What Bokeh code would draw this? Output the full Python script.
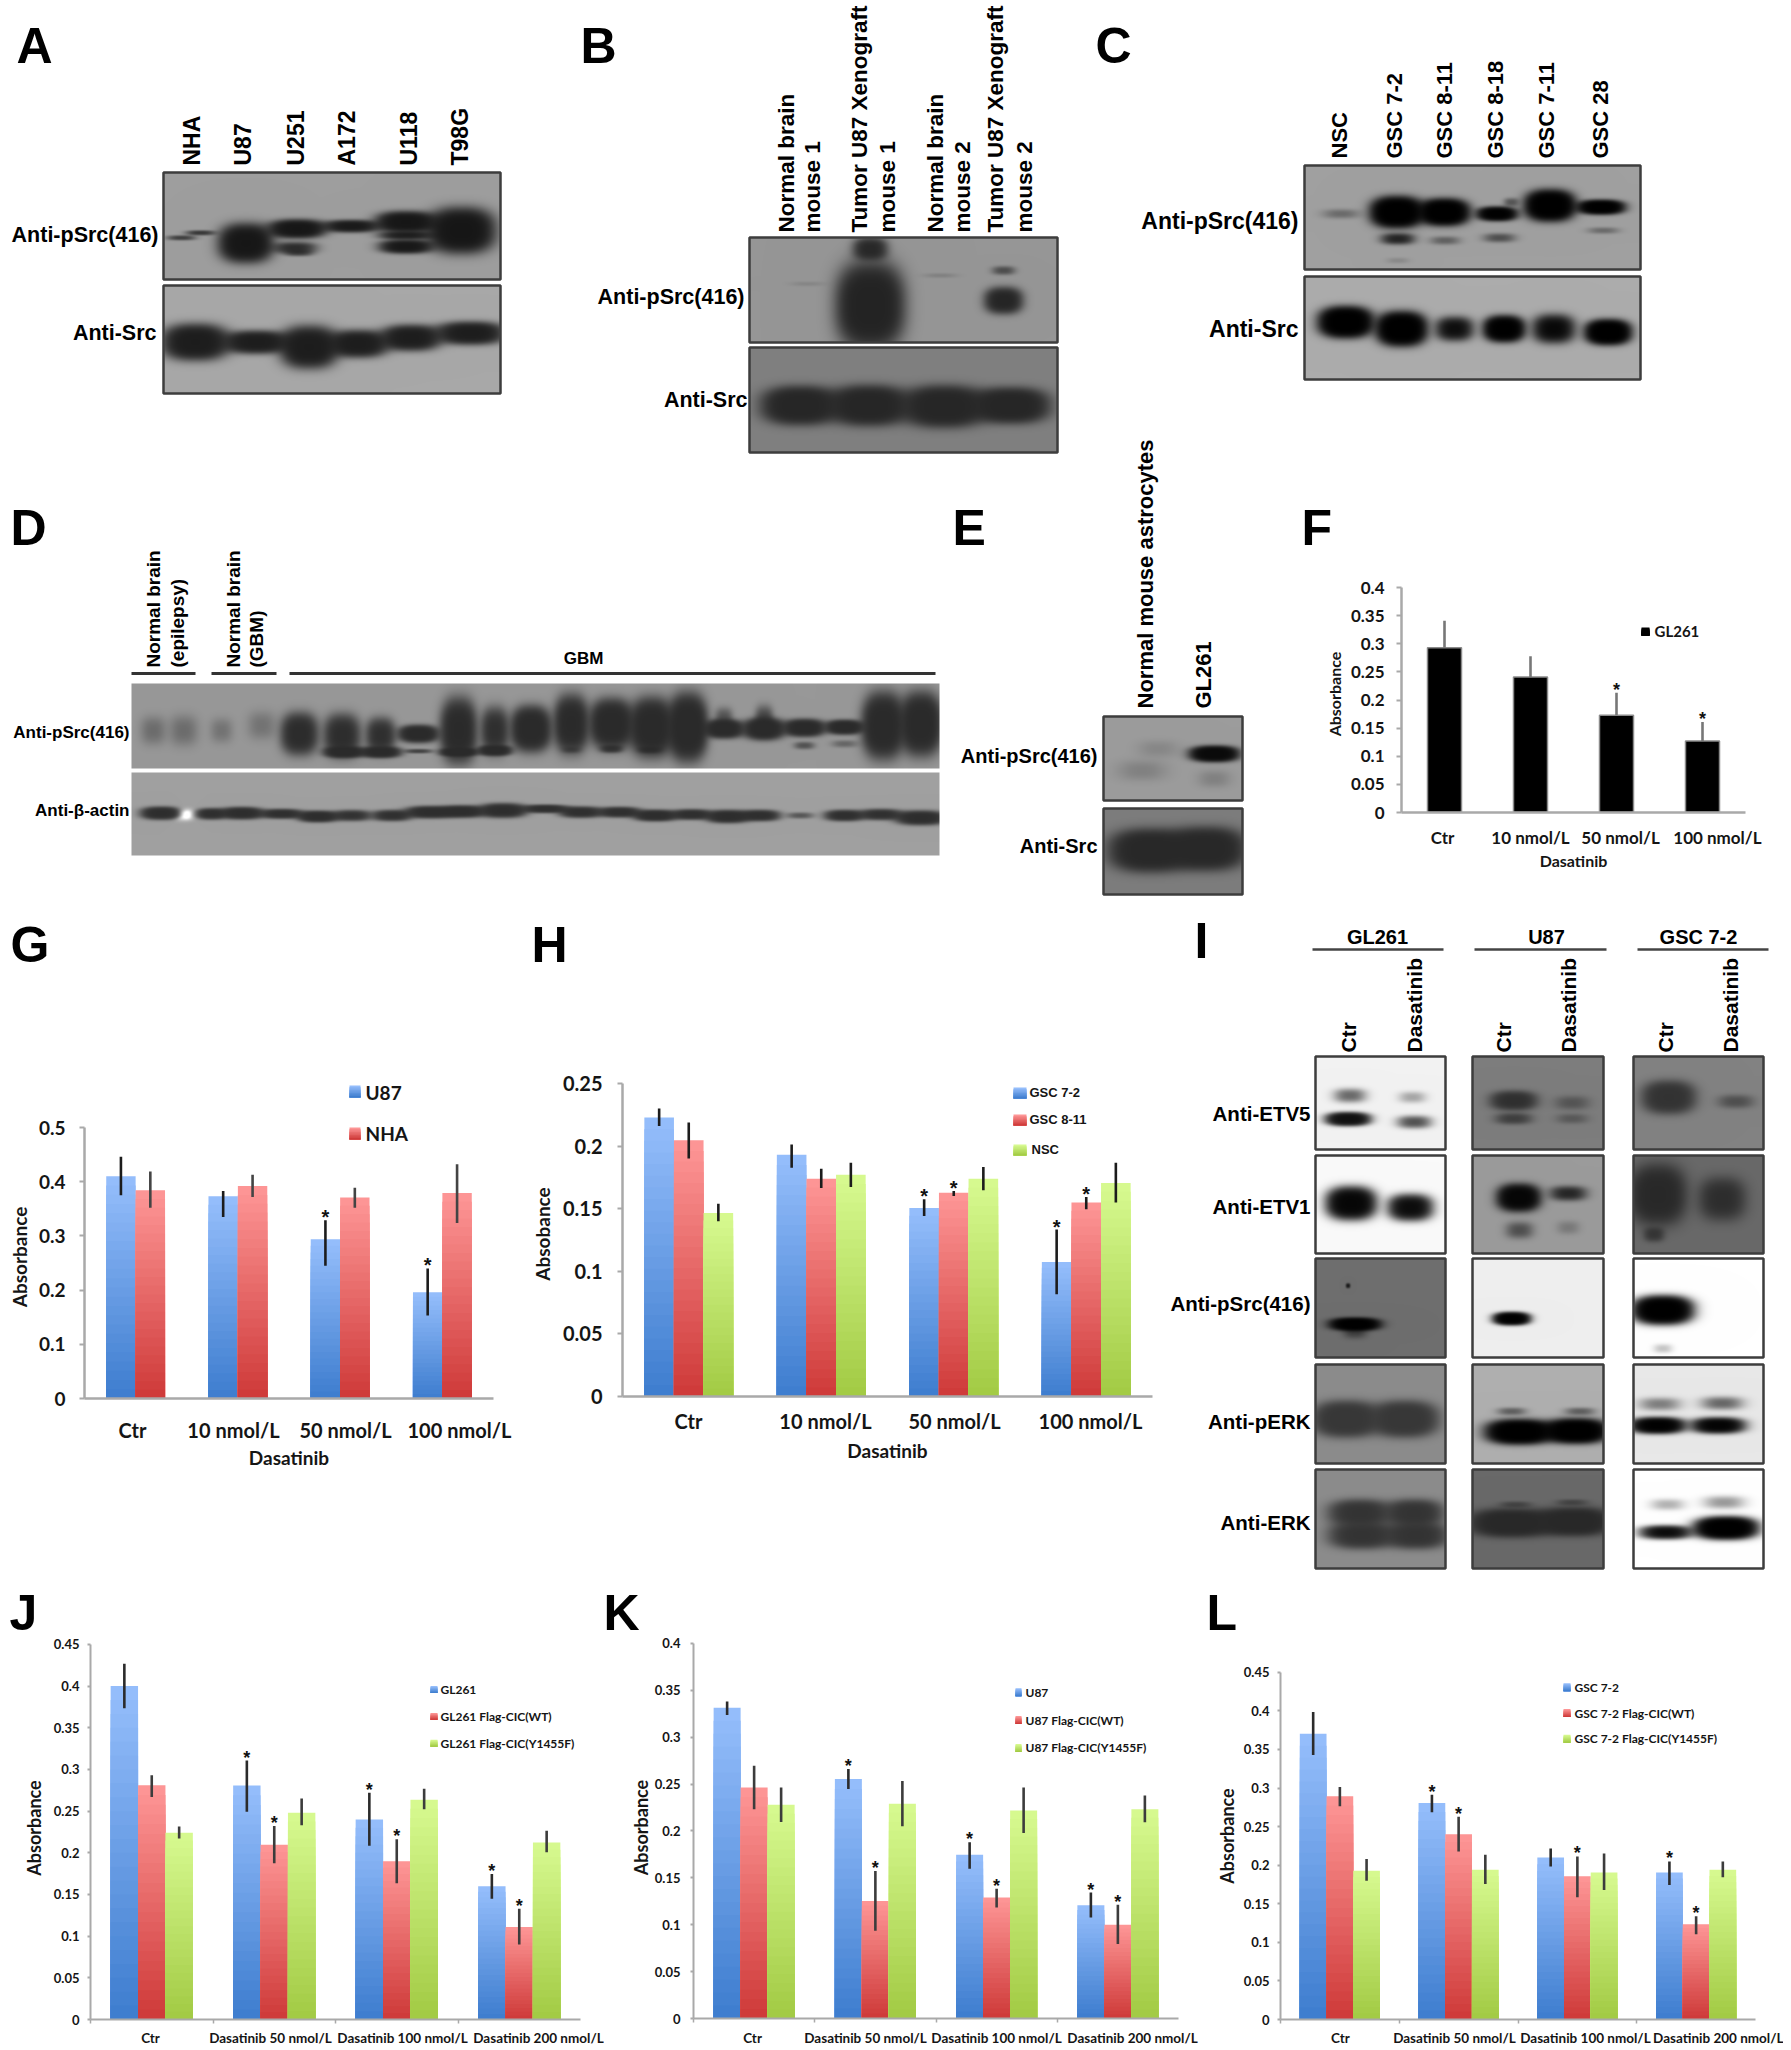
import numpy as np
from math import pi
from bokeh.core.properties import value
from bokeh.embed import file_html
from bokeh.layouts import column, row
from bokeh.models import FixedTicker, Range1d
from bokeh.plotting import figure
from bokeh.resources import INLINE

# ---------------- chart data ----------------
DOSES = ["Ctr", "10 nmol/L", "50 nmol/L", "100 nmol/L"]
DOSES_LONG = ["Ctr", "Dasatinib 50 nmol/L", "Dasatinib 100 nmol/L", "Dasatinib 200 nmol/L"]

F_GL261 = [0.293, 0.241, 0.173, 0.127]
F_GL261_HI = [0.341, 0.278, 0.213, 0.161]

G_U87 = [0.410, 0.373, 0.294, 0.196]
G_U87_LO = [0.375, 0.335, 0.245, 0.153]
G_U87_HI = [0.446, 0.383, 0.329, 0.240]
G_NHA = [0.384, 0.392, 0.371, 0.379]
G_NHA_LO = [0.352, 0.372, 0.352, 0.324]
G_NHA_HI = [0.419, 0.413, 0.389, 0.432]

H_GSC72 = [0.2228, 0.193, 0.1506, 0.1074]
H_GSC72_LO = [0.216, 0.1828, 0.1442, 0.0816]
H_GSC72_HI = [0.230, 0.2012, 0.1575, 0.1333]
H_GSC811 = [0.2047, 0.174, 0.1628, 0.1549]
H_GSC811_LO = [0.190, 0.1666, 0.1602, 0.1495]
H_GSC811_HI = [0.2188, 0.182, 0.1642, 0.1594]
H_NSC = [0.1466, 0.1772, 0.174, 0.1706]
H_NSC_LO = [0.140, 0.1674, 0.1647, 0.1549]
H_NSC_HI = [0.154, 0.1868, 0.1834, 0.1868]

J_BASE = [0.400, 0.2808, 0.240, 0.160]
J_BASE_LO = [0.3733, 0.2494, 0.2085, 0.145]
J_BASE_HI = [0.4269, 0.3106, 0.272, 0.1747]
J_WT = [0.281, 0.2097, 0.190, 0.111]
J_WT_LO = [0.2669, 0.1875, 0.1636, 0.090]
J_WT_HI = [0.2931, 0.2323, 0.2164, 0.133]
J_MUT = [0.224, 0.248, 0.2637, 0.2125]
J_MUT_LO = [0.2172, 0.2331, 0.2522, 0.2006]
J_MUT_HI = [0.2315, 0.2653, 0.2768, 0.2264]

K_BASE = [0.3314, 0.2555, 0.1746, 0.1208]
K_BASE_LO = [0.3237, 0.2449, 0.1597, 0.1078]
K_BASE_HI = [0.338, 0.2661, 0.188, 0.1343]
K_WT = [0.2463, 0.1254, 0.129, 0.100]
K_WT_LO = [0.2233, 0.0936, 0.1184, 0.0795]
K_WT_HI = [0.2696, 0.1572, 0.1385, 0.1212]
K_MUT = [0.2279, 0.229, 0.2219, 0.2233]
K_MUT_LO = [0.2095, 0.205, 0.1979, 0.2092]
K_MUT_HI = [0.2463, 0.2534, 0.2463, 0.2378]

L_BASE = [0.3703, 0.2807, 0.21, 0.1907]
L_BASE_LO = [0.3429, 0.2687, 0.1984, 0.1744]
L_BASE_HI = [0.3986, 0.2914, 0.2216, 0.2049]
L_WT = [0.2893, 0.24, 0.1856, 0.1234]
L_WT_LO = [0.2764, 0.2177, 0.1586, 0.1106]
L_WT_HI = [0.3013, 0.2627, 0.2113, 0.1337]
L_MUT = [0.1929, 0.1942, 0.1907, 0.1942]
L_MUT_LO = [0.18, 0.1757, 0.168, 0.1843]
L_MUT_HI = [0.2079, 0.2134, 0.2152, 0.2049]

TICKS_F = [(0, "0"), (0.05, "0.05"), (0.1, "0.1"), (0.15, "0.15"), (0.2, "0.2"), (0.25, "0.25"), (0.3, "0.3"), (0.35, "0.35"), (0.4, "0.4")]
TICKS_G = [(0, "0"), (0.1, "0.1"), (0.2, "0.2"), (0.3, "0.3"), (0.4, "0.4"), (0.5, "0.5")]
TICKS_H = [(0, "0"), (0.05, "0.05"), (0.1, "0.1"), (0.15, "0.15"), (0.2, "0.2"), (0.25, "0.25")]
TICKS_J = TICKS_F + [(0.45, "0.45")]

BLUE = ("#94bdfb", "#3f7ecf")
RED = ("#fd9595", "#cf3b3a")
GREEN = ("#d6f98f", "#a3cb45")
BLACK = ("#000000", "#000000")
SANS = "Liberation Sans"
LATO = "Lato"
INK = "#151515"


def lerp(c1, c2, t):
    a = [int(c1[i:i + 2], 16) for i in (1, 3, 5)]
    b = [int(c2[i:i + 2], 16) for i in (1, 3, 5)]
    return "#%02x%02x%02x" % tuple(int(round(u + (v - u) * t)) for u, v in zip(a, b))


def grad(p, lefts, rights, tops, bottoms, colors, n=24):
    # painter's order: full height first, each next slice shorter and darker
    lefts, rights, tops, bottoms = map(np.asarray, (lefts, rights, tops, bottoms))
    for k in range(n):
        f = 1 - k / n
        p.quad(left=lefts, right=rights, bottom=bottoms, top=bottoms + (tops - bottoms) * f,
               fill_color=lerp(colors[0], colors[1], k / max(n - 1, 1)), line_color=None)


def chart(box, fx0, fx1, fy0, fy1, vmax, ticks, cats, cat_px, series, bar_px, stars, ylabel, legend,
          tick_font, cat_font, ylabel_font, legend_font, legend_family, y_standoff, label_standoff, cat_standoff,
          xlabel=None, xlabel_standoff=0, frame_top=None, boundary_ticks=False, tick_out=5, axis_w=2.5, star_font=20):
    x0, y0, x1, y1 = box
    frame_top = y0 if frame_top is None else frame_top
    sp = (fx1 - fx0) / 4
    X = lambda px: -0.5 + (px - fx0) / sp
    Y = lambda px: vmax * (fy1 - px) / (fy1 - fy0)
    p = figure(width=x1 - x0, height=y1 - y0, x_range=Range1d(-0.5, 3.5), y_range=Range1d(0, Y(frame_top)),
               output_backend="svg", toolbar_location=None, min_border_left=fx0 - x0, min_border_right=x1 - fx1,
               min_border_top=frame_top - y0, min_border_bottom=y1 - fy1, outline_line_color=None, frame_align=False)
    p.grid.visible = False
    ya, xa = p.yaxis[0], p.xaxis[0]
    for a in (ya, xa):
        a.axis_line_color = "#a9a9a9"
        a.axis_line_width = axis_w
        a.major_tick_line_color = "#a9a9a9"
        a.major_tick_line_width = 2
        a.major_tick_in = 0
        a.minor_tick_in = 0
        a.major_label_text_font = LATO
        a.major_label_text_font_style = "bold"
        a.major_label_text_color = INK
        a.axis_label_text_font = LATO
        a.axis_label_text_font_style = "bold"
        a.axis_label_text_color = INK
        a.axis_label_text_font_size = f"{ylabel_font}px"
    ya.bounds = (0, vmax)
    ya.ticker = FixedTicker(ticks=[t[0] for t in ticks])
    ya.major_label_overrides = {t[0]: t[1] for t in ticks}
    ya.major_tick_out = tick_out
    ya.minor_tick_out = 0
    ya.major_label_standoff = y_standoff
    ya.major_label_text_font_size = f"{tick_font}px"
    ya.axis_label = ylabel
    ya.axis_label_standoff = label_standoff

    pos = [round(X(c), 3) for c in cat_px]
    xa.major_tick_out = 0
    xa.ticker = FixedTicker(ticks=pos, minor_ticks=[-0.5, 0.5, 1.5, 2.5] if boundary_ticks else [])
    xa.minor_tick_out = 4 if boundary_ticks else 0
    xa.minor_tick_line_color = "#a9a9a9"
    xa.minor_tick_line_width = 1.5
    xa.major_label_overrides = {q: c for q, c in zip(pos, cats)}
    xa.major_label_standoff = cat_standoff
    xa.major_label_text_font_size = f"{cat_font}px"
    if xlabel:
        xa.axis_label = xlabel
        xa.axis_label_standoff = xlabel_standoff

    n = len(series)
    w = bar_px / sp
    for i, s in enumerate(series):
        c = np.arange(4) + (i - (n - 1) / 2) * w
        if s["c"] is BLACK:
            p.quad(left=c - w / 2, right=c + w / 2, bottom=0, top=s["v"], fill_color="black", line_color="#8a8a8a", line_width=1.5)
        else:
            grad(p, c - w / 2, c + w / 2, s["v"], np.zeros(4), s["c"])
        lo = s.get("lo", s["v"])
        p.segment(x0=c, x1=c, y0=lo, y1=s["hi"], line_color=s.get("err", "#1c1c1c"), line_width=2.6)

    sx = [g + (i - (n - 1) / 2) * w for g, i in stars]
    sy = [series[i]["hi"][g] for g, i in stars]
    p.text(sx, sy, text=["*"] * len(sx), text_align="center", text_baseline="middle", y_offset=-3,
           text_font=value(SANS), text_font_style="bold", text_font_size=f"{star_font}px", text_color="#111111")

    for (sq, tx, txt, col) in legend:
        grad(p, [X(sq[0])], [X(sq[2])], [Y(sq[1])], [Y(sq[3])], col, n=8)
        p.text([X(tx[0])], [Y(tx[1])], text=[txt], text_align="left", text_baseline="middle",
               text_font=value(legend_family), text_font_style="bold", text_font_size=f"{legend_font}px", text_color=INK)
    return p


# ---------------- western blot pictures ----------------

def blot(p, box, bg, ink, blobs, z, border="#3d3d3d"):
    x0, y0, x1, y1 = box
    fx, ox, fy, oy = z
    w, h = int(x1 - x0), int(y1 - y0)
    xx, yy = np.meshgrid(np.arange(w) + x0 + 0.5, np.arange(h) + y0 + 0.5)
    d = np.zeros((h, w))
    for (cx, cy, hw, hh, a) in blobs:
        cx, cy, hw, hh = ox + cx / fx, oy + cy / fy, hw / fx, hh / fy
        q = np.abs((xx - cx) / hw) ** 2.5 + np.abs((yy - cy) / hh) ** 2.5
        d += a * np.exp(-1.6 * q)
    t = 1 - np.exp(-np.clip(d, -8, 30))
    v = np.clip(bg + (ink - bg) * t, 0, 255).astype(np.uint32)
    img = (255 << 24) | (v << 16) | (v << 8) | v
    p.image_rgba(image=[img[::-1].astype(np.uint32)], x=x0, y=-y1, dw=x1 - x0, dh=y1 - y0)
    if border:
        p.quad(left=x0, right=x1, bottom=-y1, top=-y0, fill_color=None, line_color=border, line_width=2.5)


def canvas(x0, y0, x1, y1):
    p = figure(width=x1 - x0, height=y1 - y0, x_range=Range1d(x0, x1), y_range=Range1d(-y1, -y0),
               output_backend="svg", toolbar_location=None, min_border=0, outline_line_color=None, frame_align=False)
    p.axis.visible = False
    p.grid.visible = False
    return p


def put(p, x, y, txt, size, align="left", base="middle", rot=False, family=SANS, style="bold", color="black"):
    p.text([x], [-y], text=[txt], angle=pi / 2 if rot else 0, text_align=align, text_baseline=base,
           text_font=value(family), text_font_style=style, text_font_size=f"{size}px", text_color=color)


Z1 = (1.4255, 0, 3, 0)
Z2 = (2.116, 1050, 3, 0)
Z3 = (1.244, 0, 3, 440)
Z7 = (2.566, 1180, 2.34, 910)

# ----- top-left canvas: panels A, B, D, E and the labels of C
tl = canvas(0, 0, 1300, 910)
for txt, x, y in [("A", 16, 45), ("B", 580, 45), ("C", 1095, 45), ("D", 10, 527), ("E", 952, 527)]:
    put(tl, x, y, txt, 50)

A_LANES = ["NHA", "U87", "U251", "A172", "U118", "T98G"]
for txt, x in zip(A_LANES, [191, 242, 295, 346, 408, 459]):
    put(tl, x, 165, txt, 23, rot=True)
blot(tl, (163, 172, 500, 279), 158, 22, [
    (258, 712, 22, 8, 1.2), (285, 697, 22, 8, 1.4), (350, 728, 36, 54, 5), (423, 685, 38, 26, 5),
    (420, 742, 32, 18, 1.8), (425, 758, 22, 10, 0.9), (500, 677, 38, 18, 3.5), (578, 665, 40, 30, 5),
    (578, 738, 36, 20, 4), (578, 705, 38, 12, 2.5), (657, 690, 44, 62, 5.5)], Z1)
blot(tl, (163, 285, 500, 393), 168, 28, [
    (278, 1025, 44, 50, 5), (365, 1025, 44, 32, 4.5), (440, 1040, 38, 58, 5), (510, 1030, 40, 38, 4.5),
    (585, 1012, 40, 36, 4.5), (670, 998, 46, 32, 4.5)], Z1)
put(tl, 158, 234, "Anti-pSrc(416)", 21.5, "right")
put(tl, 156, 332, "Anti-Src", 21.5, "right")

B_LANES = [("Normal brain", 786), ("mouse 1", 812), ("Tumor U87 Xenograft", 859), ("mouse 1", 887),
           ("Normal brain", 935), ("mouse 2", 962), ("Tumor U87 Xenograft", 995), ("mouse 2", 1024)]
for txt, x in B_LANES:
    put(tl, x, 232, txt, 22.5, rot=True)
blot(tl, (749, 237, 1057, 342), 150, 35, [
    (1240, 915, 44, 118, 6), (1240, 745, 24, 34, 3), (1430, 900, 26, 38, 4), (1430, 810, 18, 14, 1),
    (1150, 850, 28, 8, 0.15), (1340, 825, 28, 8, 0.2)], Z1)
blot(tl, (749, 347, 1057, 452), 128, 38, [
    (1140, 1215, 50, 52, 6), (1238, 1215, 52, 54, 6), (1345, 1218, 54, 56, 6), (1440, 1215, 50, 48, 6)], Z1)
put(tl, 744, 296, "Anti-pSrc(416)", 21.5, "right")
put(tl, 747, 399, "Anti-Src", 21.5, "right")

put(tl, 1298, 220, "Anti-pSrc(416)", 23, "right")
put(tl, 1298, 328, "Anti-Src", 23, "right")

for txt, x in [("Normal brain", 153), ("(epilepsy)", 177), ("Normal brain", 233), ("(GBM)", 256)]:
    put(tl, x, 667, txt, 19, rot=True)
put(tl, 583, 658, "GBM", 17, "center")
tl.segment(x0=[131, 211, 289], x1=[195, 276, 935], y0=[-673] * 3, y1=[-673] * 3, line_color="#333333", line_width=3)
blot(tl, (131, 683, 939, 768), 152, 42, [
    (190, 870, 18, 48, 0.5), (228, 870, 20, 52, 0.5), (275, 870, 16, 42, 0.4), (325, 855, 20, 48, 0.4),
    (372, 880, 22, 60, 4), (425, 885, 22, 62, 3.5), (428, 935, 24, 16, 5), (473, 885, 18, 52, 3), (473, 935, 24, 16, 5),
    (520, 880, 23, 24, 6), (520, 932, 18, 7, 1.5), (570, 870, 21, 90, 5), (570, 935, 22, 12, 5), (615, 870, 17, 68, 3),
    (615, 930, 20, 15, 5), (660, 865, 23, 62, 6), (710, 850, 20, 80, 5), (710, 928, 12, 10, 0.8), (760, 850, 25, 68, 6),
    (760, 925, 14, 12, 2), (810, 860, 25, 80, 6), (808, 928, 14, 10, 2), (855, 860, 22, 90, 7), (900, 865, 23, 26, 6),
    (900, 835, 12, 36, 1), (950, 865, 24, 30, 6), (950, 840, 12, 46, 1.5), (1000, 862, 24, 24, 6), (1000, 915, 14, 12, 1),
    (1050, 860, 22, 20, 6), (1050, 910, 18, 12, 0.6), (1098, 855, 24, 90, 6), (1145, 850, 24, 86, 6)], Z3, border=None)
blot(tl, (131, 772, 939, 855), 160, 45, [
    (200, 1118, 24, 18, 5), (262, 1120, 18, 16, 4), (300, 1118, 26, 17, 5), (350, 1120, 26, 14, 4), (395, 1128, 24, 16, 5),
    (437, 1125, 24, 16, 3), (487, 1125, 24, 16, 3.5), (535, 1115, 30, 17, 5), (575, 1113, 26, 17, 5), (625, 1110, 28, 20, 5),
    (678, 1105, 28, 12, 4), (722, 1115, 26, 16, 4), (770, 1115, 26, 15, 4), (815, 1125, 26, 16, 5), (860, 1122, 24, 15, 4),
    (905, 1128, 26, 18, 5), (945, 1125, 24, 16, 4), (995, 1125, 18, 10, 1), (1050, 1125, 24, 16, 4), (1095, 1122, 26, 16, 3.5),
    (1145, 1132, 30, 20, 5), (228, 1122, 14, 20, -1)], Z3, border=None)
put(tl, 129, 732, "Anti-pSrc(416)", 17, "right")
put(tl, 129, 810, "Anti-β-actin", 17, "right")

put(tl, 1145, 708, "Normal mouse astrocytes", 22, rot=True)
put(tl, 1203, 708, "GL261", 22, rot=True)
blot(tl, (1103, 716, 1242, 800), 156, 10, [
    (1510, 940, 28, 22, 6), (1420, 990, 36, 36, 0.2), (1440, 925, 30, 30, 0.15), (1510, 1015, 24, 30, 0.2)], Z3)
blot(tl, (1103, 808, 1242, 894), 125, 40, [(1430, 1230, 46, 58, 6), (1500, 1225, 44, 58, 6)], Z3)
put(tl, 1097, 755, "Anti-pSrc(416)", 20, "right")
put(tl, 1097, 845, "Anti-Src", 20, "right")

# ----- panel C blots and the letter F
cb = canvas(1300, 0, 1783, 575)
C_LANES = ["NSC", "GSC 7-2", "GSC 8-11", "GSC 8-18", "GSC 7-11", "GSC 28"]
for txt, x in zip(C_LANES, [1339, 1394, 1444, 1495, 1546, 1600]):
    put(cb, x, 158, txt, 22, rot=True)
blot(cb, (1304, 165, 1640, 269), 160, 0, [
    (615, 640, 45, 16, 0.4), (733, 635, 50, 42, 7), (833, 635, 48, 36, 7), (945, 640, 40, 20, 5), (975, 605, 18, 14, 0.6),
    (1057, 615, 48, 42, 7), (1165, 620, 46, 20, 6), (735, 715, 38, 18, 1.5), (835, 720, 36, 14, 0.5), (950, 712, 38, 15, 0.7),
    (1170, 690, 38, 11, 0.4), (735, 780, 28, 10, 0.15)], Z2)
blot(cb, (1304, 276, 1640, 379), 172, 0, [
    (625, 965, 52, 42, 7), (743, 985, 48, 46, 7), (855, 985, 40, 36, 2.5), (960, 985, 40, 36, 6), (1065, 985, 44, 42, 3),
    (1180, 995, 44, 34, 7)], Z2)
put(cb, 1301, 527, "F", 50)

# ----- panel F
f_chart = chart((1300, 575, 1783, 910), 1401, 1745, 587, 812, 0.4, TICKS_F, DOSES, [1442, 1530, 1620, 1717],
                [dict(v=F_GL261, hi=F_GL261_HI, c=BLACK, err="#777777")], 34, [(2, 0), (3, 0)], "Absorbance",
                [((1641, 627, 1649, 635), (1654, 630), "GL261", BLACK)],
                17, 17, 16, 15, LATO, 12, 4, 14, xlabel="Dasatinib", xlabel_standoff=0, star_font=18)

# ----- panel G
g_strip = canvas(0, 910, 520, 1115)
put(g_strip, 10, 944, "G", 50)
grad(g_strip, [349], [360], [-1085], [-1097], BLUE, n=8)
put(g_strip, 365, 1092, "U87", 19, family=LATO, color=INK)
g_chart = chart((0, 1115, 520, 1590), 84, 493, 1127, 1398, 0.5, TICKS_G, DOSES, [132, 233, 345, 459],
                [dict(v=G_U87, lo=G_U87_LO, hi=G_U87_HI, c=BLUE), dict(v=G_NHA, lo=G_NHA_LO, hi=G_NHA_HI, c=RED, err="#444444")],
                29.4, [(2, 0), (3, 0)], "Absorbance",
                [((349, 1127, 360, 1139), (365, 1133), "NHA", RED)],
                19, 20, 19, 19, LATO, 14, 5, 19, xlabel="Dasatinib", xlabel_standoff=1)

# ----- panel H
h_strip = canvas(520, 910, 1160, 1071)
put(h_strip, 531, 944, "H", 50)
h_chart = chart((520, 1071, 1160, 1590), 622, 1152, 1083, 1396, 0.25, TICKS_H, DOSES, [688, 825, 954, 1090],
                [dict(v=H_GSC72, lo=H_GSC72_LO, hi=H_GSC72_HI, c=BLUE), dict(v=H_GSC811, lo=H_GSC811_LO, hi=H_GSC811_HI, c=RED),
                 dict(v=H_NSC, lo=H_NSC_LO, hi=H_NSC_HI, c=GREEN)],
                29.6, [(2, 0), (2, 1), (3, 0), (3, 1)], "Absobance",
                [((1013, 1087, 1026, 1098), (1029, 1092), "GSC 7-2", BLUE), ((1013, 1114, 1026, 1125), (1029, 1119), "GSC 8-11", RED),
                 ((1013, 1144, 1026, 1155), (1031, 1149), "NSC", GREEN)],
                20, 20, 19, 13, SANS, 15, 6, 12, xlabel="Dasatinib", xlabel_standoff=3)

# ----- panel I
ib = canvas(1160, 910, 1783, 1590)
put(ib, 1194, 940, "I", 50)
for txt, x in [("GL261", 1377), ("U87", 1546), ("GSC 7-2", 1698)]:
    put(ib, x, 936, txt, 20, "center")
ib.segment(x0=[1312, 1474, 1637], x1=[1443, 1606, 1768], y0=[-949] * 3, y1=[-949] * 3, line_color="#444444", line_width=2.5)
for x, txt in [(1348, "Ctr"), (1414, "Dasatinib"), (1503, "Ctr"), (1568, "Dasatinib"), (1665, "Ctr"), (1730, "Dasatinib")]:
    put(ib, x, 1052, txt, 21, rot=True)
for y, txt in [(1113, "Anti-ETV5"), (1206, "Anti-ETV1"), (1303, "Anti-pSrc(416)"), (1421, "Anti-pERK"), (1522, "Anti-ERK")]:
    put(ib, 1310, y, txt, 20.5, "right")
COLS = [(1315, 1445), (1472, 1603), (1633, 1763)]
ROWS = [(1056, 1149), (1155, 1253), (1258, 1357), (1364, 1463), (1469, 1568)]
I_CELLS = [
    [(242, 15, [(435, 433, 46, 18, 0.9), (430, 488, 54, 15, 5), (595, 437, 40, 15, 0.4), (600, 495, 48, 16, 1.2)]),
     (125, 45, [(855, 445, 58, 22, 3.5), (855, 487, 50, 14, 1.5), (1005, 450, 50, 18, 0.7), (1005, 487, 46, 13, 0.6)]),
     (130, 50, [(1253, 437, 64, 36, 4.5), (1425, 447, 50, 17, 1)])],
    [(250, 5, [(438, 685, 60, 36, 5), (590, 695, 56, 30, 3.5)]),
     (155, 5, [(868, 672, 52, 30, 5), (995, 662, 50, 18, 1.5), (870, 748, 40, 22, 0.7), (995, 742, 34, 18, 0.25)]),
     (105, 40, [(1225, 665, 68, 66, 4.5), (1390, 675, 60, 50, 2.5), (1215, 758, 28, 18, 1.5)])],
    [(110, 0, [(448, 968, 60, 14, 6), (448, 985, 34, 18, 0.6), (430, 878, 6, 6, 1.5)]),
     (238, 0, [(850, 955, 44, 14, 6)]),
     (255, 0, [(1238, 935, 70, 30, 7), (1238, 1025, 28, 12, 0.25)])],
    [(140, 55, [(425, 1190, 78, 38, 6), (575, 1190, 78, 38, 6)]),
     (175, 0, [(870, 1220, 78, 26, 7), (1015, 1218, 74, 26, 7), (850, 1172, 42, 10, 0.6), (1025, 1172, 44, 10, 0.6)]),
     (232, 0, [(1225, 1205, 66, 18, 5), (1380, 1205, 66, 18, 4), (1230, 1155, 60, 17, 0.6), (1390, 1153, 60, 17, 0.8)])],
    [(140, 50, [(460, 1410, 76, 30, 4), (465, 1462, 80, 30, 4), (600, 1410, 70, 30, 4), (605, 1462, 76, 30, 4)]),
     (105, 40, [(850, 1433, 98, 30, 6), (1010, 1430, 88, 30, 6), (860, 1390, 44, 8, 0.8), (1005, 1385, 44, 8, 0.8)]),
     (255, 0, [(1245, 1455, 66, 16, 3), (1400, 1445, 74, 24, 7), (1250, 1390, 50, 15, 0.35), (1395, 1385, 60, 17, 0.5)])],
]
for r, rr in enumerate(ROWS):
    for c, cc in enumerate(COLS):
        bg, ink, blobs = I_CELLS[r][c]
        blot(ib, (cc[0], rr[0], cc[1], rr[1]), bg, ink, blobs, Z7)


def triple(base, base_lo, base_hi, wt, wt_lo, wt_hi, mut, mut_lo, mut_hi):
    return [dict(v=base, lo=base_lo, hi=base_hi, c=BLUE, err="#2b2b2b"), dict(v=wt, lo=wt_lo, hi=wt_hi, c=RED, err="#3c3c3c"),
            dict(v=mut, lo=mut_lo, hi=mut_hi, c=GREEN, err="#3c3c3c")]


# ----- panels J, K, L
strip4 = canvas(0, 1590, 1783, 1636)
for txt, x in [("J", 9), ("K", 603), ("L", 1206)]:
    put(strip4, x, 1612, txt, 50)

j_chart = chart((0, 1636, 604, 2048), 90, 580, 1644, 2022, 0.45, TICKS_J, DOSES_LONG, [150, 270, 402, 538],
                triple(J_BASE, J_BASE_LO, J_BASE_HI, J_WT, J_WT_LO, J_WT_HI, J_MUT, J_MUT_LO, J_MUT_HI), 27.4,
                [(1, 0), (1, 1), (2, 0), (2, 1), (3, 0), (3, 1)], "Absorbance",
                [((430, 1686, 437, 1693), (440, 1689), "GL261", BLUE), ((430, 1713, 437, 1720), (440, 1717), "GL261 Flag-CIC(WT)", RED),
                 ((430, 1740, 437, 1747), (440, 1744), "GL261 Flag-CIC(Y1455F)", GREEN)],
                13, 13.5, 18, 12, LATO, 8, 6, 6, boundary_ticks=True, tick_out=3, axis_w=2, star_font=18)

k_chart = chart((604, 1636, 1200, 2048), 693, 1178, 1643, 2020, 0.4, TICKS_F, DOSES_LONG, [752, 865, 996, 1132],
                triple(K_BASE, K_BASE_LO, K_BASE_HI, K_WT, K_WT_LO, K_WT_HI, K_MUT, K_MUT_LO, K_MUT_HI), 27,
                [(1, 0), (1, 1), (2, 0), (2, 1), (3, 0), (3, 1)], "Absorbance",
                [((1015, 1688, 1021, 1696), (1025, 1692), "U87", BLUE), ((1015, 1716, 1021, 1724), (1025, 1720), "U87 Flag-CIC(WT)", RED),
                 ((1015, 1744, 1021, 1752), (1025, 1748), "U87 Flag-CIC(Y1455F)", GREEN)],
                13, 13.5, 18, 12, LATO, 10, 0, 7, boundary_ticks=True, tick_out=3, axis_w=2, star_font=18)

l_chart = chart((1200, 1636, 1783, 2048), 1280, 1755, 1672, 2022, 0.45, TICKS_J, DOSES_LONG, [1340, 1454, 1585, 1719],
                triple(L_BASE, L_BASE_LO, L_BASE_HI, L_WT, L_WT_LO, L_WT_HI, L_MUT, L_MUT_LO, L_MUT_HI), 26.7,
                [(1, 0), (1, 1), (2, 1), (3, 0), (3, 1)], "Absorbance",
                [((1563, 1683, 1570, 1691), (1574, 1687), "GSC 7-2", BLUE), ((1563, 1709, 1570, 1717), (1574, 1713), "GSC 7-2 Flag-CIC(WT)", RED),
                 ((1563, 1735, 1570, 1743), (1574, 1739), "GSC 7-2 Flag-CIC(Y1455F)", GREEN)],
                13, 13.5, 18, 12, LATO, 8, 3, 6, frame_top=1652, boundary_ticks=True, tick_out=3, axis_w=2, star_font=18)

page = column(
    row(tl, column(cb, f_chart)),
    row(column(g_strip, g_chart), column(h_strip, h_chart), ib),
    strip4,
    row(j_chart, k_chart, l_chart),
)
open("out.html", "w").write(file_html(page, INLINE))
